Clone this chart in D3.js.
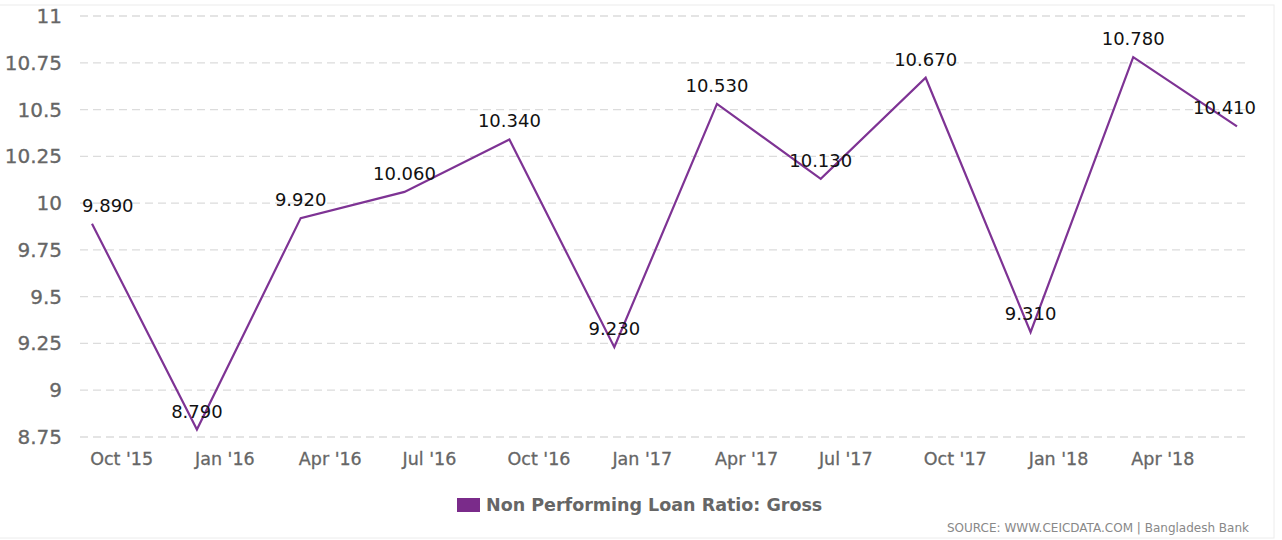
<!DOCTYPE html>
<html lang="en">
<head>
<meta charset="UTF-8">
<title>Non Performing Loan Ratio: Gross</title>
<script src="https://d3js.org/d3.v7.min.js"></script>
<style>
  body { margin: 0; background: #fff; }
  text { font-family: "DejaVu Sans", Verdana, sans-serif; }
</style>
</head>
<body>
<svg width="1282" height="540"></svg>
<script>
const dates = ["2015-09-30","2015-12-31","2016-03-31","2016-06-30","2016-09-30","2016-12-31",
               "2017-03-31","2017-06-30","2017-09-30","2017-12-31","2018-03-31","2018-06-30"];
const values = [9.89, 8.79, 9.92, 10.06, 10.34, 9.23, 10.53, 10.13, 10.67, 9.31, 10.78, 10.41];
const yTicks = [8.75, 9, 9.25, 9.5, 9.75, 10, 10.25, 10.5, 10.75, 11];
const xTickDates = ["2015-10-01","2016-01-01","2016-04-01","2016-07-01","2016-10-01","2017-01-01",
                    "2017-04-01","2017-07-01","2017-10-01","2018-01-01","2018-04-01"];
const seriesName = "Non Performing Loan Ratio: Gross";
const source = "SOURCE: WWW.CEICDATA.COM | Bangladesh Bank";

const data = dates.map((d, i) => ({ time: new Date(d + "T00:00:00"), value: values[i] }));

const svg = d3.select("svg");
const plotLeft = 80, plotRight = 1256;

const x = d3.scaleTime()
  .domain([new Date(dates[0] + "T00:00:00"), new Date(dates[dates.length - 1] + "T00:00:00")])
  .range([92, 1237]);
const y = d3.scaleLinear().domain([8.75, 11]).range([437, 16]);

// frame
svg.append("rect").attr("x", -1).attr("y", 5).attr("width", 1275).attr("height", 533)
  .attr("fill", "none").attr("stroke", "#ececec");

// grid
svg.append("g").selectAll("line").data(yTicks).enter().append("line")
  .attr("x1", plotLeft).attr("x2", 1250)
  .attr("y1", d => y(d)).attr("y2", d => y(d))
  .attr("stroke", "#dcdcdc").attr("stroke-width", 1.3).attr("stroke-dasharray", "8,5");

// y labels
svg.append("g").selectAll("text").data(yTicks).enter().append("text")
  .attr("x", 62).attr("y", d => y(d) + 7)
  .attr("text-anchor", "end").attr("font-size", 20).attr("fill", "#666")
  .attr("stroke", "#666").attr("stroke-width", 0.3)
  .text(d => d3.format("")(d));

// x labels
const fmt = d3.timeFormat("%b '%y");
svg.append("g").selectAll("text").data(xTickDates).enter().append("text")
  .attr("x", d => x(new Date(d + "T00:00:00")) - 3).attr("y", 465)
  .attr("font-size", 17.5).attr("fill", "#666")
  .attr("stroke", "#666").attr("stroke-width", 0.3)
  .text(d => fmt(new Date(d + "T00:00:00")));

// line
const line = d3.line().x(d => x(d.time)).y(d => y(d.value));
svg.append("path").attr("d", line(data))
  .attr("fill", "none").attr("stroke", "#7e3394").attr("stroke-width", 2.2);

// data labels
const lbl = svg.append("g").selectAll("text").data(data).enter().append("text")
  .attr("y", d => y(d.value) - 12)
  .attr("font-size", 18).attr("fill", "#111")
  .text(d => d3.format(".3f")(d.value));
lbl.each(function(d) {
  const w = this.getComputedTextLength();
  let left = x(d.time) - w / 2;
  if (left < plotLeft + 2) left = plotLeft + 2;
  if (left + w > plotRight) left = plotRight - w;
  d3.select(this).attr("x", left);
});

// legend
svg.append("rect").attr("x", 457).attr("y", 498).attr("width", 23).attr("height", 14)
  .attr("fill", "#7a2b8a");
svg.append("text").attr("x", 486).attr("y", 511)
  .attr("font-size", 17.5).attr("font-weight", "bold").attr("fill", "#666")
  .text(seriesName);

// source
svg.append("text").attr("x", 1249).attr("y", 532).attr("text-anchor", "end")
  .attr("font-size", 12).attr("fill", "#888").text(source);
</script>
</body>
</html>
